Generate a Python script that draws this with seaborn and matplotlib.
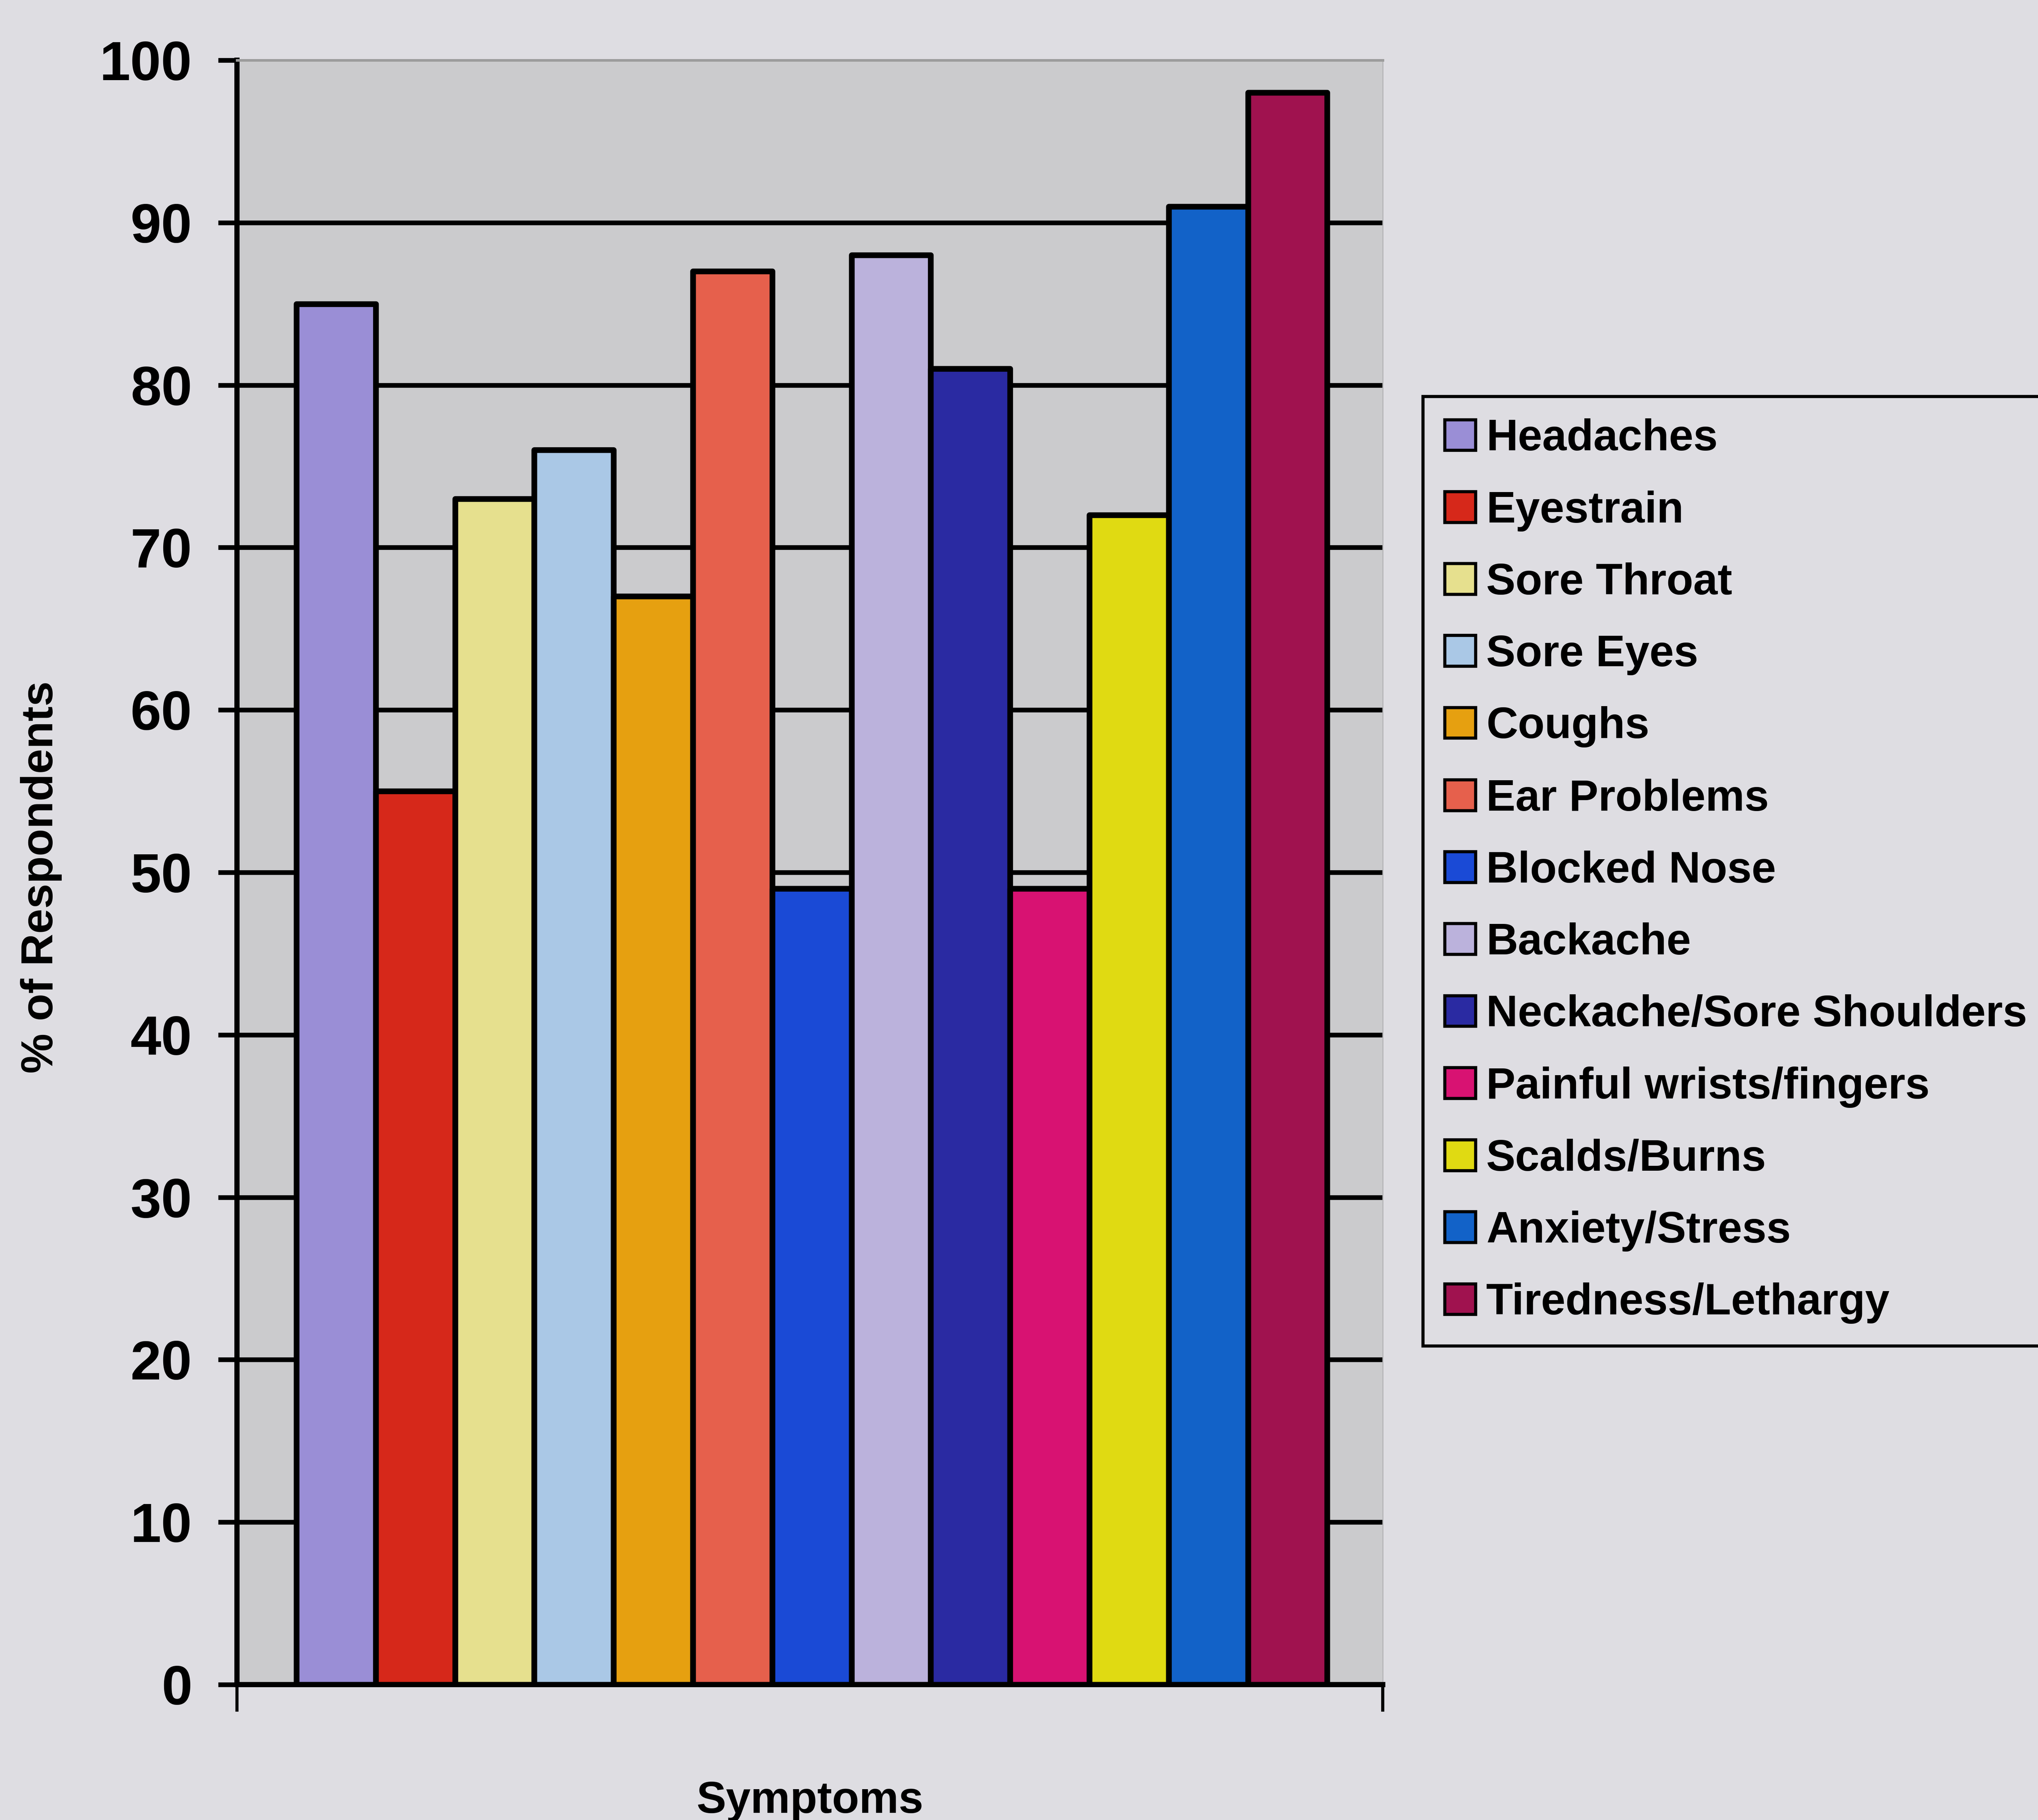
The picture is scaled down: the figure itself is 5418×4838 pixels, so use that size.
import matplotlib
matplotlib.use("Agg")
import matplotlib.pyplot as plt
from matplotlib.patches import Patch
import seaborn as sns

# Survey results: share of respondents reporting each symptom
symptoms = [
    "Headaches", "Eyestrain", "Sore Throat", "Sore Eyes", "Coughs",
    "Ear Problems", "Blocked Nose", "Backache", "Neckache/Sore Shoulders",
    "Painful wrists/fingers", "Scalds/Burns", "Anxiety/Stress",
    "Tiredness/Lethargy",
]
percent = [85, 55, 73, 76, 67, 87, 49, 88, 81, 49, 72, 91, 98]
bar_colors = [
    "#9a8ed6", "#d6281a", "#e6e08e", "#aac8e6", "#e6a010",
    "#e6604c", "#1a4ad6", "#bbb2dc", "#2a2aa2", "#d81272",
    "#e0da12", "#1262c8", "#a0124f",
]
y_ticks = list(range(0, 101, 10))

sns.set_theme(style="white")
plt.rcParams["font.family"] = ["Liberation Sans", "DejaVu Sans"]
plt.rcParams["font.weight"] = "bold"
plt.rcParams["text.color"] = "black"
plt.rcParams["axes.labelcolor"] = "black"

fig_bg = "#dedde2"
ax_bg = "#cbcbcd"

fig = plt.figure(figsize=(54.18, 48.38), dpi=100, facecolor=fig_bg)
ax = fig.add_axes([630 / 5418, 1 - 4478 / 4838, (3676 - 630) / 5418, (4478 - 160) / 4838])
ax.set_facecolor(ax_bg)

palette = dict(zip(symptoms, bar_colors))
sns.barplot(
    x=symptoms, y=percent, hue=symptoms, order=symptoms, hue_order=symptoms,
    palette=palette, width=1.0, saturation=1, edgecolor="black",
    linewidth=11, legend=False, ax=ax,
)
for p in ax.patches:
    p.set_joinstyle("round")

ax.set_ylim(0, 100)
ax.set_xlim(-1.25, 13.2)
ax.set_yticks(y_ticks)
ax.set_yticklabels([str(v) for v in y_ticks], fontsize=106, fontweight="bold")
ax.set_xticks([-1.25, 13.2])
ax.set_xticklabels(["", ""])
ax.tick_params(axis="y", direction="out", length=36, width=9, pad=50, colors="black", left=True)
ax.tick_params(axis="x", direction="out", length=52, width=6, colors="black", bottom=True)

# horizontal gridlines behind the bars (10..90)
ax.set_axisbelow(True)
ax.yaxis.grid(True, color="black", linewidth=9)
for gl, t in zip(ax.yaxis.get_gridlines(), y_ticks):
    if t in (0, 100):
        gl.set_visible(False)

for side in ("left", "bottom"):
    ax.spines[side].set_color("black")
    ax.spines[side].set_linewidth(10)
ax.spines["top"].set_color("#9c9c9c")
ax.spines["top"].set_linewidth(5)
ax.spines["right"].set_color("#b5b5b7")
ax.spines["right"].set_linewidth(2)

ax.set_xlabel("Symptoms", fontsize=85, fontweight="bold", color="black")
ax.xaxis.set_label_coords(0.5, -0.059)
ax.xaxis.label.set_va("top")
ax.set_ylabel("% of Respondents", fontsize=86, fontweight="bold", color="black")
ax.yaxis.set_label_coords((110 - 630) / 3046, 0.497)
ax.yaxis.label.set_va("center")

handles = [Patch(facecolor=c, edgecolor="black", linewidth=6, joinstyle="round")
           for c in bar_colors]
leg = fig.legend(
    handles, symptoms, loc="upper left",
    bbox_to_anchor=(3783 / 5418, 1 - 1054 / 4838),
    prop={"size": 84, "weight": "bold"},
    handlelength=0.70, handleheight=0.70, handletextpad=0.24,
    borderpad=0.5, labelspacing=0.705, borderaxespad=0,
    frameon=True, fancybox=False, framealpha=1,
    facecolor=fig_bg, edgecolor="black", labelcolor="black",
)
leg.get_frame().set_linewidth(6)

fig.savefig("out.png", dpi=100, facecolor=fig_bg)
